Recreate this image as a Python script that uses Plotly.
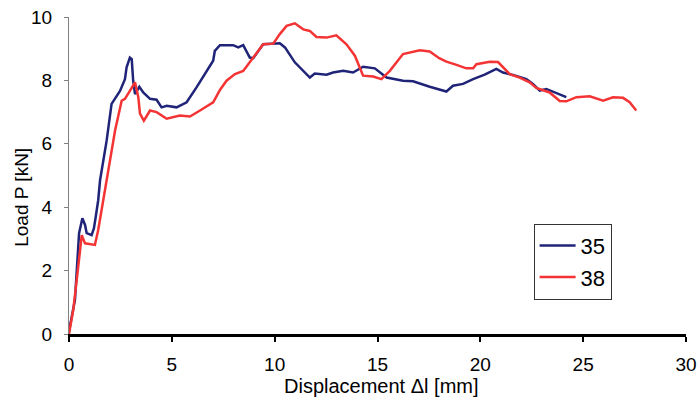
import plotly.graph_objects as go

# Series 35 (blue)
x35 = [0, 0.29, 0.49, 0.65, 0.78, 0.86, 1.10, 1.21, 1.30, 1.42, 1.51, 1.67, 1.83, 2.07, 2.24, 2.48, 2.72, 2.80,
       2.96, 3.05, 3.12, 3.21, 3.42, 3.61, 3.94, 4.26, 4.50, 4.75, 5.23, 5.72, 6.20, 6.69, 7.01, 7.09, 7.34,
       7.98, 8.23, 8.47, 8.79, 8.96, 9.44, 10.25, 10.50, 10.98, 11.39, 11.71, 11.95, 12.52, 12.84, 13.33,
       13.81, 14.30, 14.87, 15.44, 16.24, 16.73, 17.54, 18.03, 18.35, 18.67, 19.16, 19.65, 20.21, 20.78,
       21.10, 21.59, 22.24, 22.56, 22.89, 23.21, 23.70, 24.18]
y35 = [0.09, 1.08, 3.18, 3.65, 3.44, 3.18, 3.12, 3.33, 3.70, 4.22, 4.85, 5.50, 6.10, 7.26, 7.42, 7.67, 8.04, 8.41,
       8.72, 8.67, 7.99, 7.57, 7.80, 7.62, 7.42, 7.39, 7.15, 7.20, 7.15, 7.31, 7.78, 8.30, 8.62, 8.93, 9.11,
       9.11, 9.04, 9.11, 8.72, 8.70, 9.14, 9.17, 9.04, 8.57, 8.30, 8.09, 8.22, 8.18, 8.25, 8.30,
       8.25, 8.43, 8.38, 8.09, 7.99, 7.97, 7.80, 7.72, 7.65, 7.83, 7.89, 8.04, 8.18, 8.36,
       8.25, 8.17, 8.04, 7.89, 7.68, 7.73, 7.59, 7.47]

# Series 38 (red)
x38 = [0, 0.21, 0.45, 0.62, 0.78, 1.26, 1.42, 1.59, 1.70, 2.00, 2.24, 2.56, 2.72, 2.96, 3.21, 3.37, 3.45, 3.64,
       3.94, 4.26, 4.75, 5.39, 5.88, 6.37, 7.01, 7.34, 7.66, 8.07, 8.47, 8.96, 9.44, 9.93, 10.25, 10.58,
       10.98, 11.39, 11.71, 12.03, 12.52, 13.00, 13.49, 13.90, 14.30, 14.79, 15.19, 15.60, 16.24, 17.06,
       17.54, 18.00, 18.35, 18.84, 19.32, 19.65, 19.81, 20.46, 20.86, 21.43, 21.91, 22.40, 22.72, 23.37,
       23.86, 24.18, 24.67, 25.32, 25.97, 26.45, 26.94, 27.26, 27.58]
y38 = [0, 0.77, 2.13, 3.12, 2.86, 2.81, 3.28, 3.91, 4.33, 5.48, 6.42, 7.36, 7.42, 7.67, 7.94, 7.47, 6.95, 6.73,
       7.05, 7.00, 6.79, 6.89, 6.86, 7.05, 7.31, 7.70, 7.99, 8.20, 8.30, 8.72, 9.14, 9.16, 9.46, 9.72,
       9.80, 9.61, 9.56, 9.37, 9.35, 9.42, 9.14, 8.78, 8.15, 8.12, 8.04, 8.30, 8.83, 8.95,
       8.91, 8.70, 8.59, 8.49, 8.38, 8.38, 8.51, 8.59, 8.58, 8.20, 8.09, 7.94, 7.76, 7.62,
       7.35, 7.34, 7.47, 7.50, 7.36, 7.47, 7.45, 7.31, 7.05]

x_ticks = [0, 5, 10, 15, 20, 25, 30]
y_ticks = [0, 2, 4, 6, 8, 10]

FONT = "Arial, Liberation Sans, sans-serif"

fig = go.Figure()
fig.add_trace(go.Scatter(x=x35, y=y35, mode="lines", name="35",
                         line=dict(color="#1f2478", width=2.5)))
fig.add_trace(go.Scatter(x=x38, y=y38, mode="lines", name="38",
                         line=dict(color="#f43434", width=2.5)))

fig.update_layout(
    width=699, height=401,
    margin=dict(l=69, r=12.5, t=16.5, b=66.5, autoexpand=False),
    paper_bgcolor="white", plot_bgcolor="white",
    font=dict(family=FONT, color="black", size=19),
    showlegend=True,
    legend=dict(x=0.753, y=0.348, xanchor="left", yanchor="top",
                bgcolor="white", bordercolor="#333333", borderwidth=1,
                itemwidth=36,
                font=dict(size=22, family=FONT), tracegroupgap=0),
    xaxis=dict(range=[0, 30], tickvals=x_ticks, showgrid=False, zeroline=False,
               automargin=False,
               showline=True, linecolor="black", linewidth=2.5,
               ticks="outside", ticklen=5, tickwidth=1.5, tickcolor="black",
               ticklabelstandoff=6, tickfont=dict(size=19)),
    yaxis=dict(range=[0, 10], tickvals=y_ticks, showgrid=False, zeroline=False,
               automargin=False,
               showline=True, linecolor="#808080", linewidth=1,
               ticks="outside", ticklen=4, tickwidth=1, tickcolor="#808080",
               ticklabelstandoff=8, tickfont=dict(size=19)),
    annotations=[
        dict(text="Displacement Δl [mm]", xref="paper", yref="paper",
             x=0.507, y=-0.165, xanchor="center", yanchor="middle",
             showarrow=False, font=dict(size=20, family=FONT)),
        dict(text="Load P [kN]", xref="paper", yref="paper", textangle=-90,
             x=-0.076, y=0.43, xanchor="center", yanchor="middle",
             showarrow=False, font=dict(size=19, family=FONT)),
    ],
)

fig.write_html("out.html")
